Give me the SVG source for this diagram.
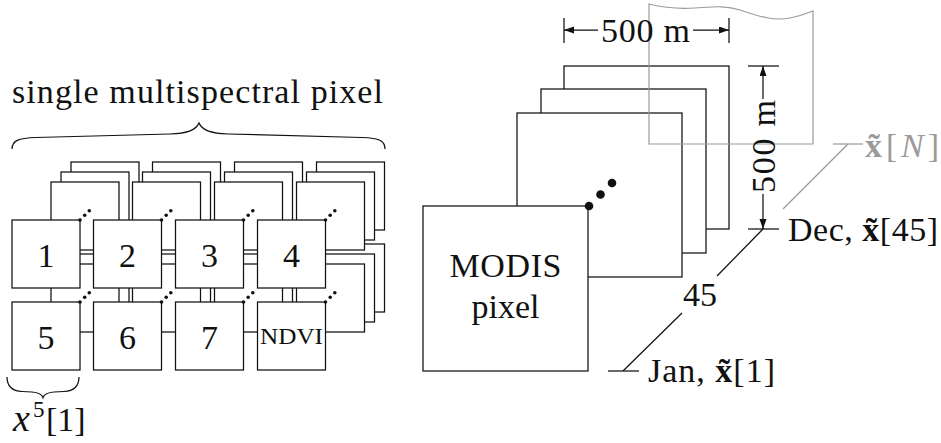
<svg xmlns="http://www.w3.org/2000/svg" xmlns:xlink="http://www.w3.org/1999/xlink" width="941" height="443" viewBox="0 0 941 443">
<style>
  .b { fill: #fff; stroke: #111; stroke-width: 1.25; }
  .ln { fill: none; stroke: #111; stroke-width: 1.25; }
  .gr { fill: none; stroke: #9a9a9a; stroke-width: 1.2; }
  .t { font-family: "Liberation Serif", "Times New Roman", serif; font-size: 34px; fill: #111; }
  .tc { text-anchor: middle; }
  .g { fill: #9a9a9a; }
</style>
<defs>
  <marker id="arr" markerUnits="userSpaceOnUse" markerWidth="11" markerHeight="8" refX="10" refY="3.5" orient="auto">
    <path d="M0,0 L10,3.5 L0,7 Z" fill="#111"/>
  </marker>
  <g id="stack">
    <rect class="b" x="59" y="-58" width="68" height="68"/>
    <rect class="b" x="49" y="-48" width="68" height="68"/>
    <rect class="b" x="39" y="-38" width="68" height="68"/>
    <rect class="b" x="0" y="0" width="68" height="68"/>
    <circle cx="68" cy="0" r="1.8" fill="#111"/>
    <circle cx="72.7" cy="-4.7" r="1.8" fill="#111"/>
    <circle cx="77.3" cy="-9.3" r="1.8" fill="#111"/>
  </g>
</defs>

<!-- left: single multispectral pixel -->
<g id="label-single">
  <text class="t" x="12" y="103" textLength="371" lengthAdjust="spacing">single multispectral pixel</text>
  <path class="ln" d="M12,149 C12,141 18,138 36,137.5 L170,134 C188,133.5 196,130 199,123 C202,130 210,133.5 228,134 L362,137.5 C380,138 385,141 385,149"/>
</g>

<g id="box5" transform="translate(12,302)"><use xlink:href="#stack"/><text class="t tc" x="34" y="46.5">5</text></g>
<g id="box6" transform="translate(93.5,302)"><use xlink:href="#stack"/><text class="t tc" x="34" y="46.5">6</text></g>
<g id="box7" transform="translate(175.5,302)"><use xlink:href="#stack"/><text class="t tc" x="34" y="46.5">7</text></g>
<g id="box8" transform="translate(257.5,302)"><use xlink:href="#stack"/><text class="t tc" x="34" y="42" style="font-size:23px" textLength="63" lengthAdjust="spacingAndGlyphs">NDVI</text></g>
<g id="box1" transform="translate(12,220)"><use xlink:href="#stack"/><text class="t tc" x="34" y="46.5">1</text></g>
<g id="box2" transform="translate(93.5,220)"><use xlink:href="#stack"/><text class="t tc" x="34" y="46.5">2</text></g>
<g id="box3" transform="translate(175.5,220)"><use xlink:href="#stack"/><text class="t tc" x="34" y="46.5">3</text></g>
<g id="box4" transform="translate(257.5,220)"><use xlink:href="#stack"/><text class="t tc" x="34" y="46.5">4</text></g>

<g id="label-x5">
  <path class="ln" d="M7,377 C7,386 12,391 22,391.5 L32,392 C38,392.5 42,394 43,397.5 C44,394 48,392.5 54,392 L64,391.5 C74,391 79,386 79,377"/>
  <text class="t" x="13" y="431"><tspan font-style="italic" font-size="38">x</tspan><tspan x="33" font-size="23" dy="-14">5</tspan><tspan x="46" dy="14">[1]</tspan></text>
</g>

<!-- right: MODIS stack -->
<g id="modis">
  <rect class="b" x="564" y="66" width="165" height="163"/>
  <rect class="b" x="541" y="89" width="165" height="164"/>
  <rect class="b" x="517" y="113" width="165" height="164"/>
  <rect class="b" x="423" y="206" width="165" height="165"/>
  <circle cx="589" cy="206" r="4.3" fill="#111"/>
  <circle cx="600.5" cy="194.5" r="4.3" fill="#111"/>
  <circle cx="612" cy="183" r="4.3" fill="#111"/>
  <text class="t tc" x="505.5" y="277" textLength="112" lengthAdjust="spacing">MODIS</text>
  <text class="t tc" x="505.5" y="318">pixel</text>
</g>

<g id="layerN">
  <path class="gr" d="M649,144 L649,4 C665,8 680,9 695,8 C712,7 725,5 740,10 C760,17 775,21 790,18 C800,16 808,13 813,11 L813,144 Z"/>
</g>

<g id="connectors">
  <!-- horizontal 500 m -->
  <line class="ln" x1="564" y1="18" x2="564" y2="43"/>
  <line class="ln" x1="729" y1="18" x2="729" y2="43"/>
  <line class="ln" x1="598" y1="30" x2="564" y2="30" marker-end="url(#arr)"/>
  <line class="ln" x1="693" y1="30" x2="729" y2="30" marker-end="url(#arr)"/>
  <!-- vertical 500 m -->
  <line class="ln" x1="748" y1="66" x2="779" y2="66"/>
  <line class="ln" x1="748" y1="229" x2="779" y2="229"/>
  <line class="ln" x1="763" y1="99" x2="763" y2="66" marker-end="url(#arr)"/>
  <line class="ln" x1="763" y1="194" x2="763" y2="229" marker-end="url(#arr)"/>
  <!-- time axis -->
  <line class="ln" x1="608" y1="371" x2="639" y2="371"/>
  <line class="ln" x1="763" y1="229" x2="717" y2="276"/>
  <line class="ln" x1="682" y1="313" x2="623" y2="371"/>
  <line class="gr" x1="783" y1="209" x2="848" y2="144"/>
  <line class="gr" x1="833" y1="144" x2="863" y2="144"/>
</g>

<g id="labels-right">
  <text class="t" x="601" y="42" textLength="89" lengthAdjust="spacing">500 m</text>
  <text class="t tc" transform="translate(775,146.5) rotate(-90)" textLength="93" lengthAdjust="spacing">500 m</text>
  <text class="t tc" x="700" y="306">45</text>
  <text class="t" x="648" y="382" textLength="127" lengthAdjust="spacing">Jan, <tspan font-weight="bold">x̃</tspan>[1]</text>
  <text class="t" x="788" y="241" textLength="150" lengthAdjust="spacing">Dec, <tspan font-weight="bold">x̃</tspan>[45]</text>
  <text class="t g" x="865" y="157" textLength="74" lengthAdjust="spacing"><tspan font-weight="bold">x̃</tspan>[<tspan font-style="italic">N</tspan>]</text>
</g>
</svg>
